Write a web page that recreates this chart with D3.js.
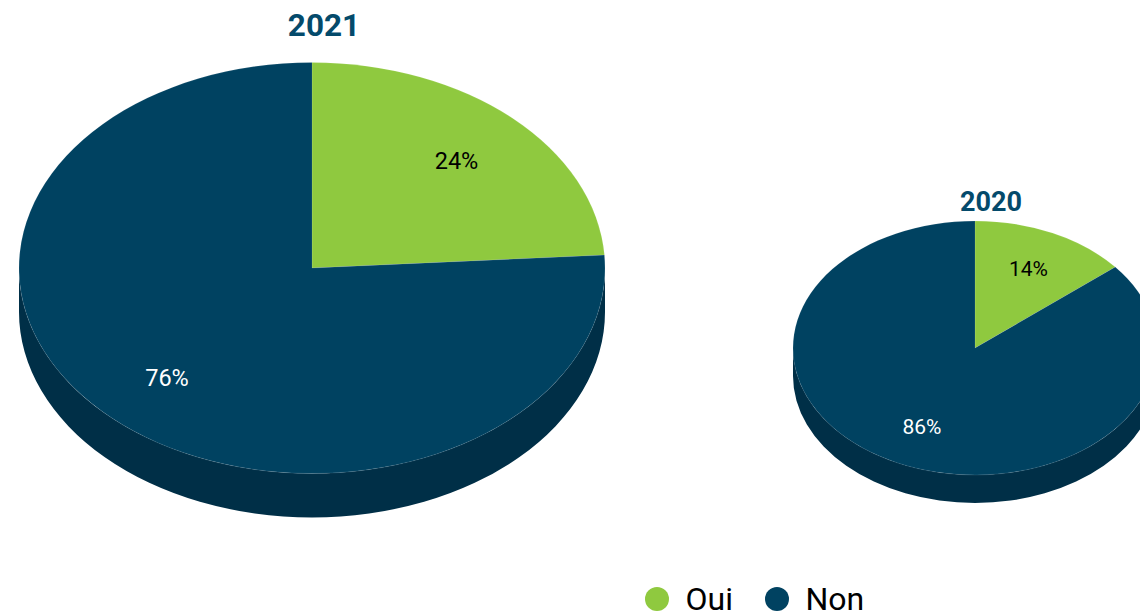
<!DOCTYPE html>
<html lang="fr">
<head>
<meta charset="utf-8">
<title>Oui / Non</title>
<script src="https://d3js.org/d3.v7.min.js"></script>
<style>
  html, body { margin: 0; padding: 0; background: #fff; overflow: hidden; }
  svg { display: block; font-family: Roboto, sans-serif; }
</style>
</head>
<body>
<script>
var categories = ["Oui", "Non"];
var years = ["2021", "2020"];
var values2021 = [24, 76];
var values2020 = [14, 86];

var width = 1140, height = 614;

var color = d3.scaleOrdinal().domain(categories).range(["#8fc93f", "#004261"]);
var sideColor = "#002f47";
var labelColor = d3.scaleOrdinal().domain(categories).range(["#000000", "#ffffff"]);

var svg = d3.select("body").append("svg")
    .attr("width", width)
    .attr("height", height);

var pie = d3.pie().sort(null).value(function(d) { return d.value; });

// x/y are the centre of the top face, rx/ry its radii, depth the wall height
function drawPie(year, values, o) {
  var rows = categories.map(function(c, i) { return {cat: c, value: values[i]}; });
  var arcs = pie(rows);
  var arc = d3.arc().innerRadius(0).outerRadius(o.rx);
  var g = svg.append("g");

  // side wall, only the front half of the ellipse shows
  arcs.forEach(function(a) {
    var a0 = Math.max(a.startAngle, Math.PI / 2);
    var a1 = Math.min(a.endAngle, Math.PI * 1.5);
    if (a1 <= a0) return;
    var px = function(t) { return o.x + o.rx * Math.sin(t); };
    var py = function(t) { return o.y - o.ry * Math.cos(t); };
    var d = "M" + px(a0) + "," + py(a0) +
      "A" + o.rx + "," + o.ry + " 0 0 1 " + px(a1) + "," + py(a1) +
      "L" + px(a1) + "," + (py(a1) + o.depth) +
      "A" + o.rx + "," + o.ry + " 0 0 0 " + px(a0) + "," + (py(a0) + o.depth) + "Z";
    g.append("path").attr("d", d).attr("fill", sideColor);
  });

  // top face
  g.append("g")
      .attr("transform", "translate(" + o.x + "," + o.y + ") scale(1," + (o.ry / o.rx) + ")")
    .selectAll("path")
    .data(arcs)
    .enter().append("path")
      .attr("d", arc)
      .attr("fill", function(d) { return color(d.data.cat); })
      .attr("stroke", "#ffffff")
      .attr("stroke-opacity", 0.2)
      .attr("stroke-width", 0.5)
      .attr("vector-effect", "non-scaling-stroke");

  g.append("text")
      .attr("x", o.titleX)
      .attr("y", o.titleY)
      .attr("text-anchor", "middle")
      .attr("font-weight", 700)
      .attr("font-size", o.titleSize)
      .attr("fill", "#044a6b")
      .text(year);

  g.selectAll("text.pct")
    .data(arcs)
    .enter().append("text")
      .attr("class", "pct")
      .attr("x", function(d, i) { return o.labels[i][0]; })
      .attr("y", function(d, i) { return o.labels[i][1]; })
      .attr("text-anchor", "middle")
      .attr("dominant-baseline", "central")
      .attr("font-size", o.labelSize)
      .attr("fill", function(d) { return labelColor(d.data.cat); })
      .text(function(d) { return d.data.value + "%"; });
}

drawPie(years[0], values2021, {
  x: 312, y: 268, rx: 293, ry: 205.5, depth: 44,
  titleX: 324, titleY: 36, titleSize: 31.5,
  labels: [[456.5, 161], [167, 377.5]], labelSize: 23.5
});
drawPie(years[1], values2020, {
  x: 975, y: 348, rx: 182, ry: 127, depth: 28,
  titleX: 991, titleY: 210.5, titleSize: 27,
  labels: [[1028.5, 268.5], [922, 427]], labelSize: 21
});

// legend
var legendX = d3.scaleOrdinal().domain(categories).range([657, 777]);
var legend = svg.selectAll("g.legend")
  .data(categories)
  .enter().append("g")
    .attr("class", "legend")
    .attr("transform", function(d) { return "translate(" + legendX(d) + ",599)"; });
legend.append("circle")
    .attr("r", 12)
    .attr("fill", function(d) { return color(d); });
legend.append("text")
    .attr("x", 28.5)
    .attr("dominant-baseline", "central")
    .attr("font-size", 32)
    .attr("fill", "#000")
    .text(function(d) { return d; });
</script>
</body>
</html>
